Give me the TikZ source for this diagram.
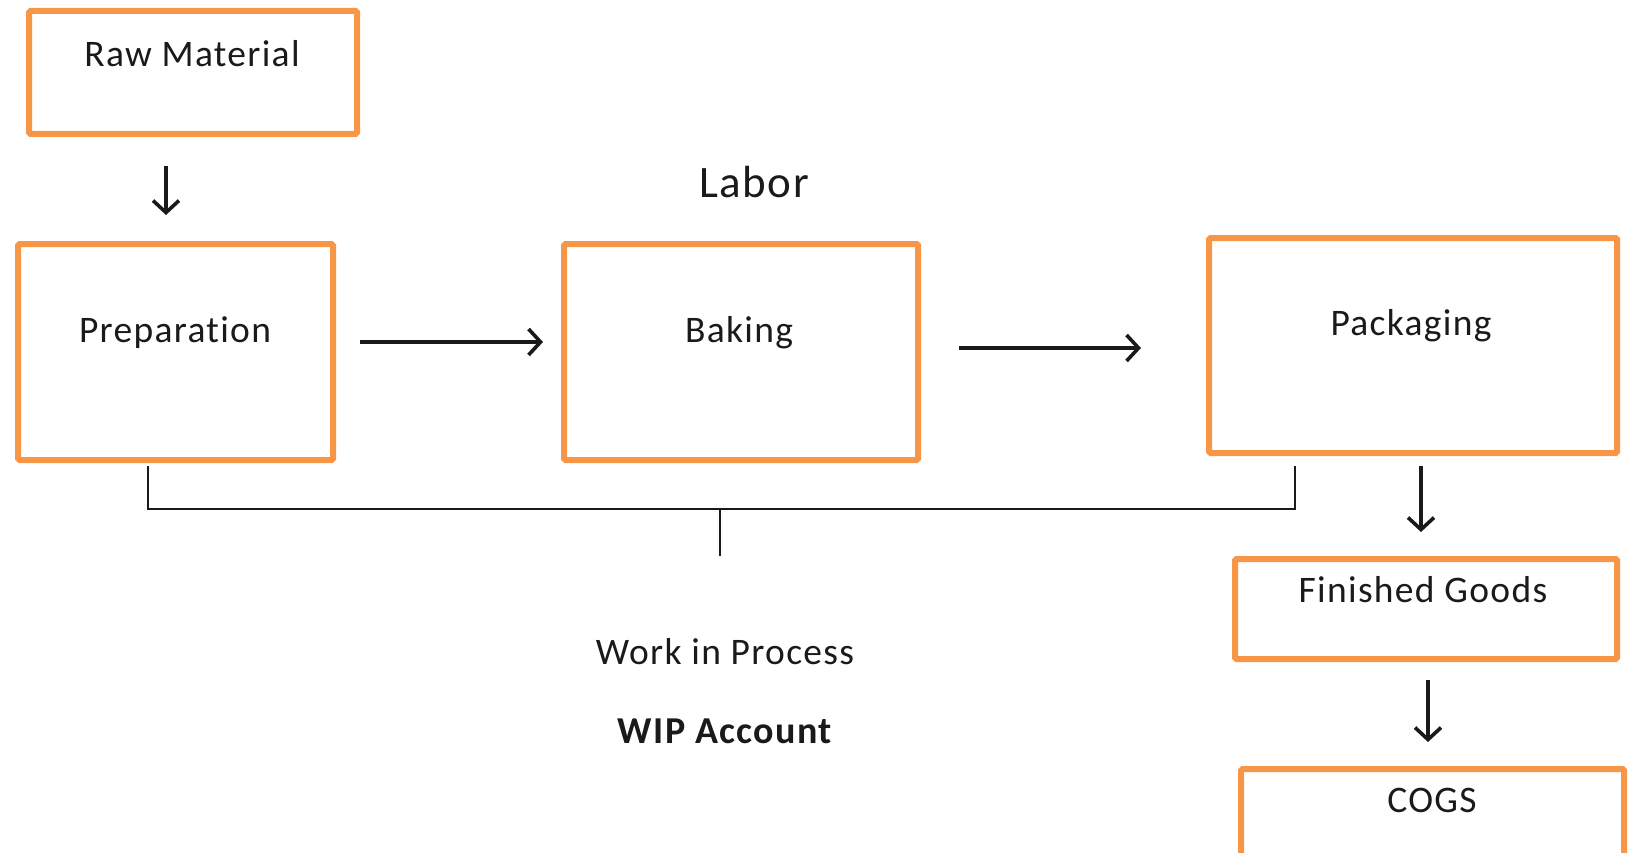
\documentclass[tikz,border=0pt]{standalone}
\usepackage{fontspec}
\setmainfont{Carlito}[Ligatures=NoCommon,LetterSpace=3.5]
\usetikzlibrary{arrows.meta,calc}
\definecolor{boxorange}{HTML}{F79646}
\definecolor{txt}{HTML}{1A1A1A}
\begin{document}
\begin{tikzpicture}[x=1pt,y=-1pt,
  box/.style={draw=boxorange,line width=6pt,rounded corners=1.5pt,inner sep=0pt},
  lbl/.style={font=\fontsize{37.5}{44}\selectfont,text=txt,inner sep=0pt},
  arr/.style={line width=3.6pt,draw=txt,-{Straight Barb[length=12pt,width=26pt,line width=3.6pt]}},
  bracket/.style={line width=2pt,draw=txt}]
\useasboundingbox (0,0) rectangle (1630,853);
\clip (0,0) rectangle (1630,853);
% boxes
\node[box,minimum width=328pt,minimum height=123pt] (raw)  at (193,72.5) {};
\node[box,minimum width=315pt,minimum height=216pt] (prep) at (175.5,352) {};
\node[box,minimum width=354pt,minimum height=216pt] (bake) at (741,352) {};
\node[box,minimum width=408pt,minimum height=215pt] (pack) at (1413,345.5) {};
\node[box,minimum width=382pt,minimum height=100pt] (fg)   at (1426,609) {};
\node[box,minimum width=383pt,minimum height=100pt] (cogs) at (1432.5,819) {};
% texts
\node[lbl] (rawT)  at (192,54)   {Raw Material};
\node[lbl] (prepT) at (175,333)  {Preparation};
\node[lbl] (bakeT) at (739,333)  {Baking};
\node[lbl] (packT) at (1411,326) {Packaging};
\node[lbl] (fgT)   at (1423,590) {Finished Goods};
\node[lbl] (cogsT) at (1432,800) {COGS};
\node[lbl,font=\fontsize{45}{52}\selectfont] (labor) at (754,182) {Labor};
\node[lbl] (wip)   at (725,652)  {Work in Process};
\node[lbl,font=\fontsize{38}{44}\selectfont\bfseries] (wipacc) at (725,731) {WIP Account};
% helper coordinates
\coordinate (x1) at (166,0);
\coordinate (y2) at (0,342);
\coordinate (y3) at (0,348);
\coordinate (x4) at (1421,0);
\coordinate (x5) at (1428,0);
\coordinate (bl) at (148,509);
\coordinate (br) at (1295,509);
\coordinate (bm) at (720,509);
\coordinate (bstem) at (720,556);
% arrows
\draw[arr,shorten <=29pt,shorten >=26pt] (raw.south -| x1) -- (prep.north -| x1);
\draw[arr,shorten <=24pt,shorten >=18pt] (prep.east |- y2) -- (bake.west |- y2);
\draw[arr,shorten <=38pt,shorten >=65pt] (bake.east |- y3) -- (pack.west |- y3);
\draw[arr,shorten <=10pt,shorten >=24pt] (pack.south -| x4) -- (fg.north -| x4);
\draw[arr,shorten <=18pt,shorten >=24pt] (fg.south -| x5) -- (cogs.north -| x5);
% WIP bracket
\draw[bracket] ($(prep.south -| bl)+(0,3)$) -- (bl) -- (br) -- ($(pack.south -| br)+(0,10)$);
\draw[bracket] (bm) -- (bstem);
\end{tikzpicture}
\end{document}
